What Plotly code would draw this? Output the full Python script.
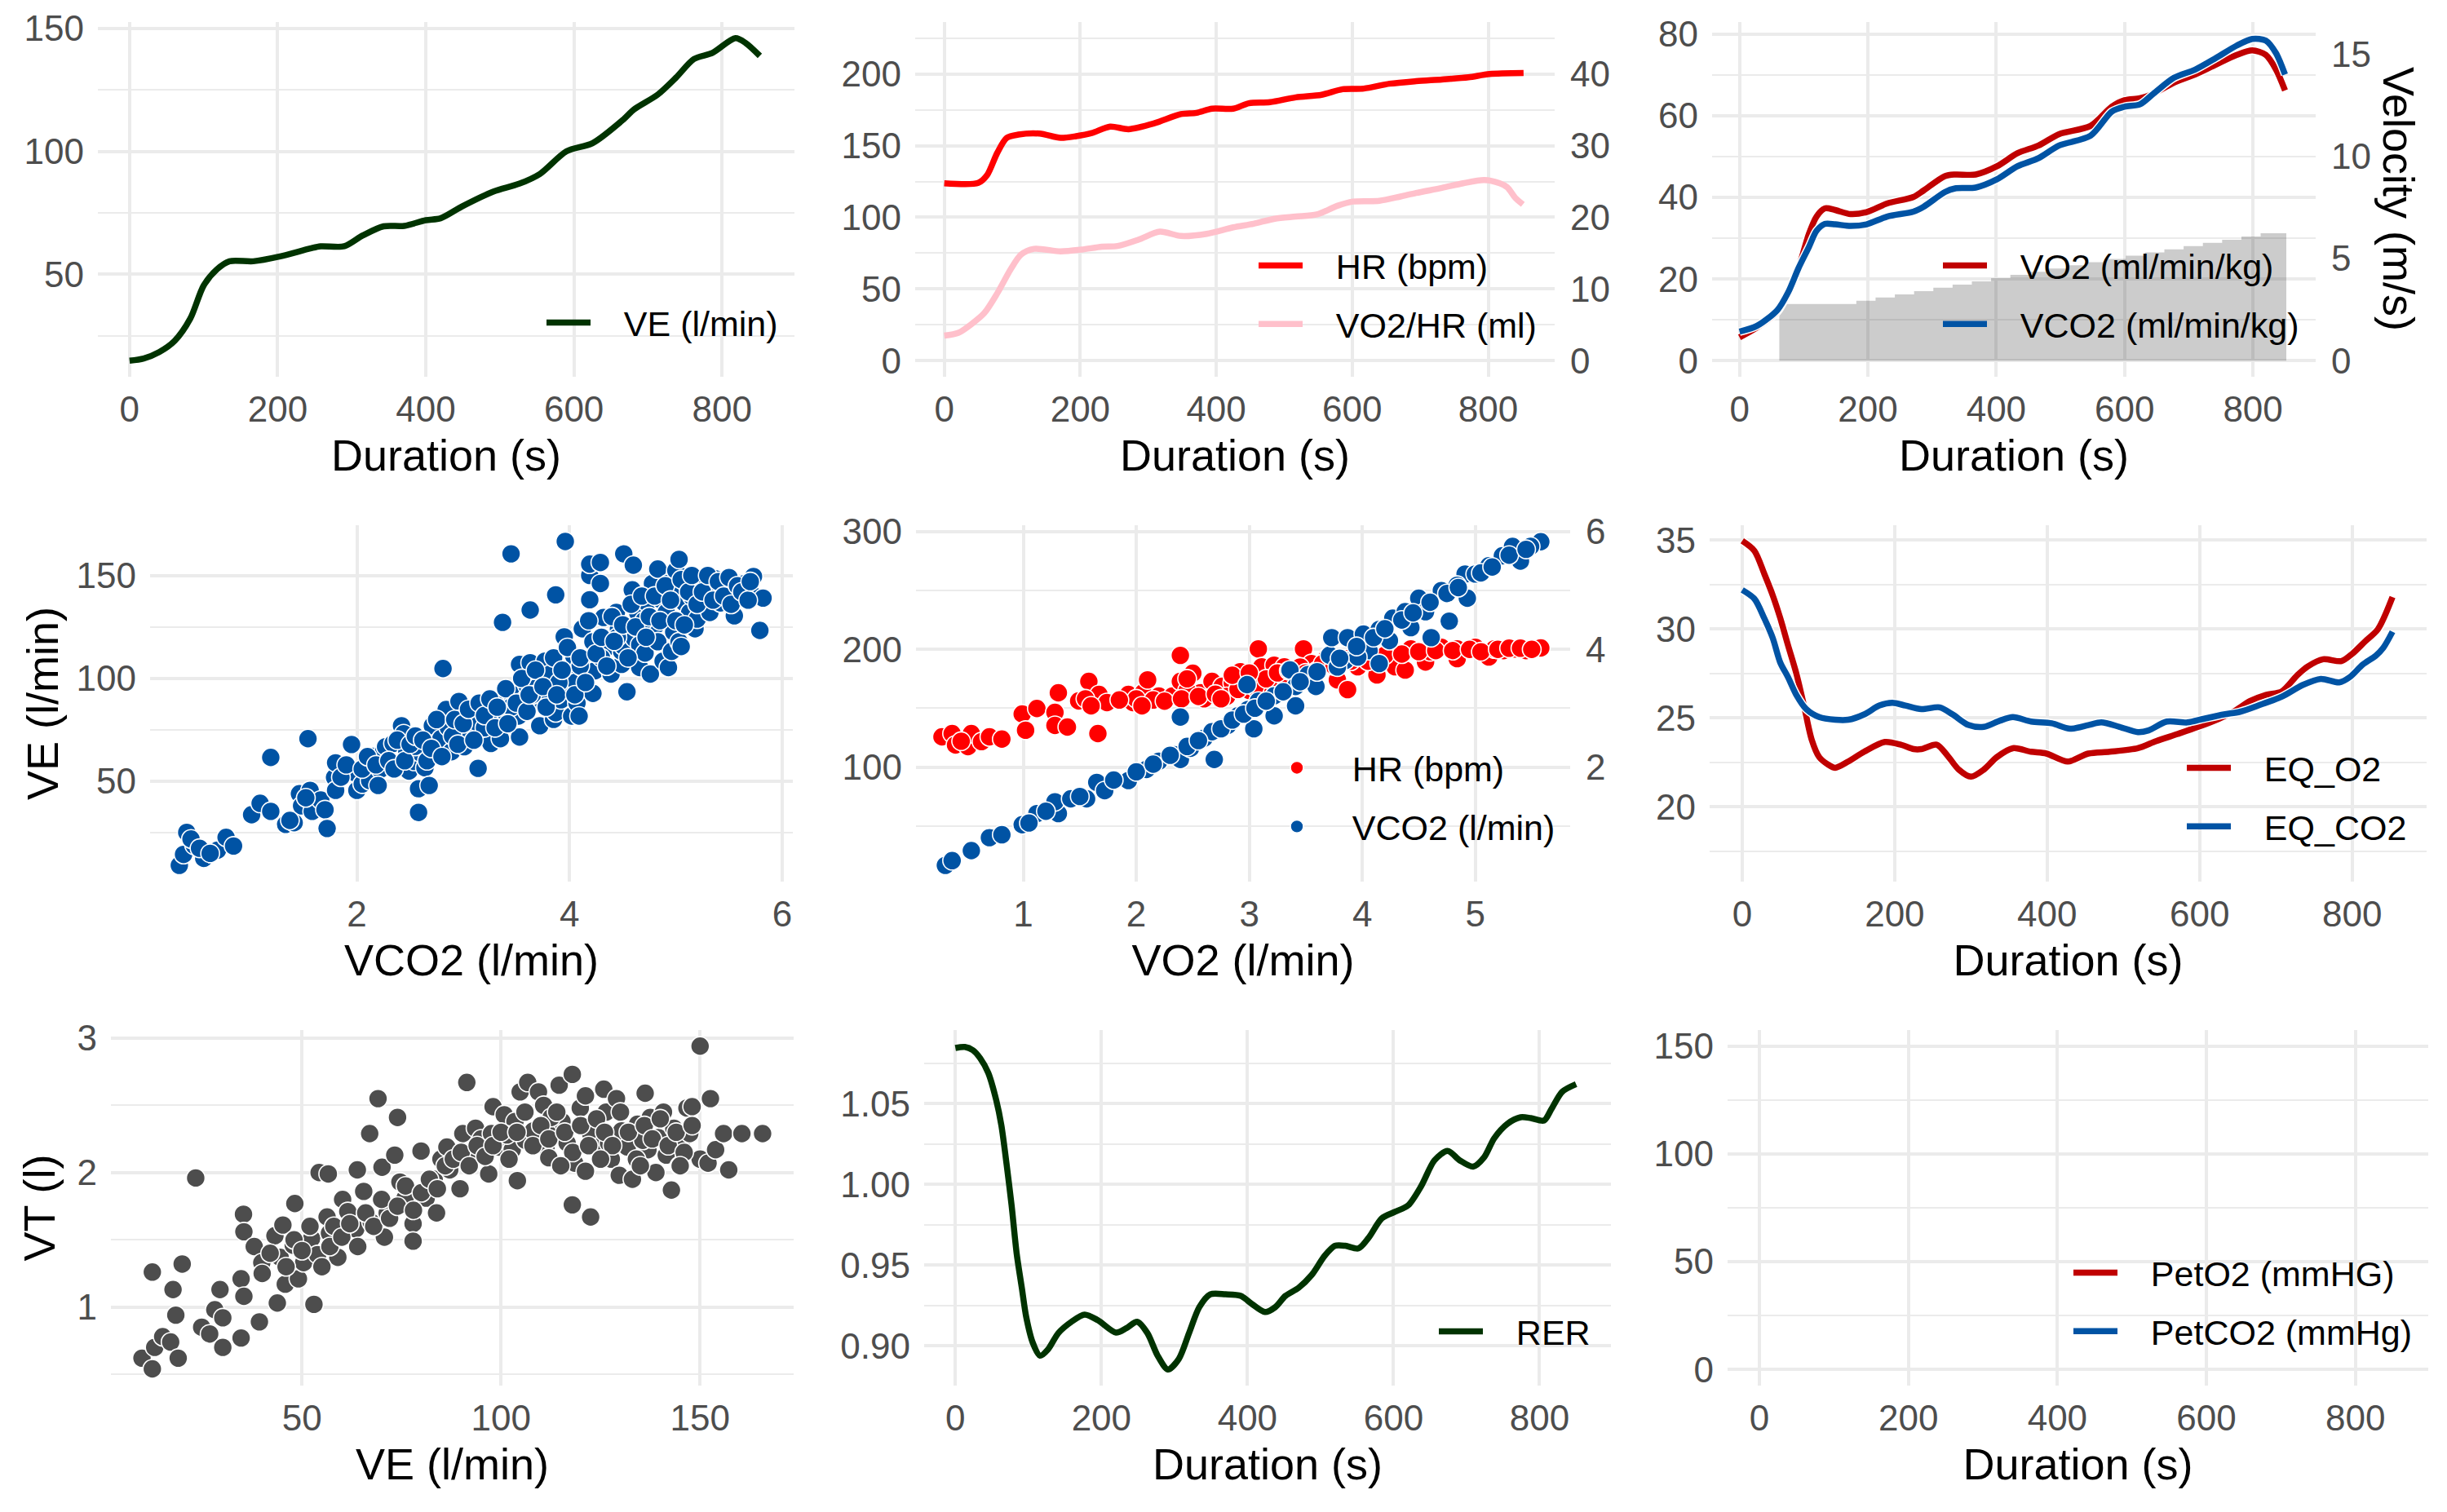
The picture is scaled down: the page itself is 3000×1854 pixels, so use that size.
import plotly.graph_objects as go

W, H = 3000, 1854
FONT = "Liberation Sans, Arial, sans-serif"
TICK_COLOR = "#4D4D4D"
GRID = "#EBEBEB"
GREEN = "#003300"
RED = "#C00000"
BLUE = "#0053A4"
HR_RED = "#FF0000"
PINK = "#FFC0CB"
GREY_PT = "#4D4D4D"
TICK_SIZE = 44
TITLE_SIZE = 54
LEGEND_SIZE = 43
KEY_GAP = "\u00a0\u00a0\u00a0"  # spacing between legend key and its label

# ---------------- data ----------------
# Panel 1: VE over time
ve_t = [0, 19, 40, 61, 82, 100, 118, 135, 167, 202, 244, 258, 290, 315, 343, 371, 400, 420, 449, 491,
        526, 554, 590, 625, 667, 681, 713, 738, 762, 787, 818, 832, 851]
ve_v = [14.9, 15.8, 18.4, 23, 32, 45.4, 52, 55.3, 55.3, 57.2, 60.5, 61.4, 61.4, 65.8, 69.5, 69.7, 72, 72.8,
        77.6, 83.6, 86.8, 90.8, 100, 103.3, 113, 117, 123, 130, 137.5, 140, 146, 144, 138.8]

# Panel 2: HR and VO2/HR over time
hr_t = [0, 50, 63, 78, 92, 109, 140, 171, 194, 217, 244, 271, 309, 348, 371, 394, 425, 448, 479, 517,
        555, 586, 617, 655, 694, 732, 771, 802, 852]
hr_v = [123.8, 124, 129.4, 145, 155.4, 157.7, 158.4, 155.4, 156.6, 158.8, 163.3, 161.5, 165.6, 172, 172.9,
        175.8, 175.8, 179.6, 180.3, 183.7, 185.5, 189.4, 189.8, 193.2, 195, 196.2, 197.7, 200, 200.7]
pulse_t = [0, 21, 40, 59, 78, 98, 113, 132, 171, 202, 232, 255, 286, 317, 348, 386, 425, 455, 486, 517,
           548, 578, 601, 640, 671, 694, 732, 763, 794, 817, 828, 840, 851]
pulse_v = [3.5, 3.9, 5.1, 6.65, 9.4, 12.8, 14.8, 15.6, 15.25, 15.5, 15.9, 16, 16.9, 18, 17.4, 17.7, 18.6,
           19.1, 19.8, 20.1, 20.4, 21.6, 22.2, 22.3, 22.9, 23.4, 24.1, 24.75, 25.2, 24.75, 24.2, 22.7, 21.8]

# Panel 3: VO2 / VCO2 (ml/min/kg) and velocity steps
gas_t = [0, 27, 59, 76, 92, 108, 120, 133, 149, 173, 198, 230, 271, 287, 320, 336, 368, 401, 433, 466,
         498, 547, 580, 600, 624, 645, 677, 710, 742, 775, 799, 820, 836, 850]
vo2kg_v = [5.7, 8.1, 12, 16.8, 22.7, 31, 35.3, 37.3, 36.9, 35.9, 36.4, 38.5, 40.1, 41.7, 45.2, 45.6, 45.6,
           47.6, 50.8, 52.7, 55.5, 57.5, 62.2, 63.8, 64.3, 65.4, 68.1, 70.1, 72.5, 74.9, 76, 74.9, 71.3, 66.2]
vco2kg_v = [7.1, 8.5, 12.4, 16.8, 22.7, 27.8, 31.8, 33.5, 33.4, 33, 33.4, 35.3, 36.5, 37.7, 41.3, 42.2,
            42.4, 44.4, 47.6, 49.6, 52.7, 55.1, 61, 62.2, 62.8, 65.4, 69.3, 71.3, 74.1, 77.2, 78.8, 78.4,
            75.3, 70.1]
vel_t = [62, 182, 212, 242, 272, 302, 332, 362, 392, 422, 452, 482, 512, 542, 572, 602, 632, 662, 692,
         722, 752, 782, 812, 852]
vel_v = [2.78, 2.94, 3.10, 3.25, 3.41, 3.57, 3.72, 3.88, 4.04, 4.20, 4.35, 4.51, 4.67, 4.82, 4.98, 5.14,
         5.30, 5.45, 5.61, 5.77, 5.92, 6.08, 6.24, 6.24]

# Panel 4: VE vs VCO2
p4_vco2 = [0.33, 0.37, 0.40, 0.47, 0.56, 0.69, 0.77, 0.84, 0.44, 0.52, 0.62,
           1.01, 1.09, 1.19, 1.19, 1.33, 1.41, 1.46, 1.48, 1.54, 1.56, 1.58, 1.66, 1.70, 1.72, 1.37, 1.52,
           1.79, 1.80, 1.80, 1.95, 1.98, 2.00, 2.05, 2.12, 2.15, 2.22, 2.25, 2.27, 2.34, 2.42, 2.44, 2.47,
           2.49, 2.54, 2.58, 2.58, 2.60, 2.64, 2.68, 2.71, 2.74, 2.79, 2.81, 2.84, 2.86, 2.89, 2.96, 2.99,
           3.01, 3.03, 3.08, 3.13, 3.14, 3.18, 3.26, 3.28, 3.35, 3.37, 3.37, 3.40, 3.45, 3.45, 3.52, 3.53,
           3.53, 3.58, 3.60, 3.63, 3.63, 3.67, 3.70, 3.72, 3.77, 3.80, 3.82, 3.85, 3.87, 3.87, 3.92, 3.95,
           3.96, 3.97, 3.99, 4.02, 4.04, 4.06, 4.07, 4.09, 4.12, 4.14, 4.19, 4.19, 4.19, 4.22, 4.22, 4.24,
           4.29, 4.29, 4.32, 4.34, 4.39, 4.44, 4.46, 4.49, 4.49, 4.51, 4.51, 4.54, 4.59, 4.60, 4.61, 4.64,
           4.66, 4.66, 4.71, 4.73, 4.76, 4.78, 4.81, 4.83, 4.83, 4.86, 4.88, 4.91, 4.93, 4.93, 4.96, 4.98,
           5.00, 5.03, 5.03, 5.05, 5.05, 5.08, 5.10, 5.13, 5.15, 5.18, 5.20, 5.23, 5.25, 5.28, 5.30, 5.32,
           5.35, 5.37, 5.40, 5.42, 5.47, 5.50, 5.55, 5.55, 5.60, 5.65, 5.72, 5.73, 5.79, 5.82,
           2.30, 2.55, 2.95, 3.20, 3.45, 3.65, 3.90, 4.10, 4.30, 4.45, 4.70,
           1.85, 1.90, 2.05, 2.10, 2.18, 2.20, 2.30, 2.35, 2.38, 2.45, 2.50, 2.55, 2.62, 2.66, 2.70, 2.75,
           2.80, 2.90, 2.92, 2.95, 3.00, 3.05, 3.10, 3.15, 3.20, 3.25, 3.30, 3.32, 3.40, 3.42, 3.50, 3.55,
           3.60, 3.62, 3.68, 3.75, 3.78, 3.85, 3.88, 3.93, 3.98, 4.05, 4.10, 4.15, 4.18, 4.25, 4.30, 4.35,
           4.40, 4.42, 4.50, 4.55, 4.58, 4.62, 4.68, 4.72, 4.75, 4.80, 4.85, 4.90, 4.95, 5.00, 5.05, 5.08,
           5.12, 5.15, 5.20, 5.25, 5.30, 5.35, 5.40, 5.45, 5.50, 5.52, 5.58, 5.62, 5.68, 5.70]
p4_ve = [9.2, 14.5, 25.2, 18.9, 12.6, 16.6, 22.8, 18.6, 22.0, 17.5, 15.0,
         33.8, 39.3, 35.4, 61.6, 29.1, 29.9, 44.0, 38.1, 70.7, 45.6, 35.4, 40.9, 36.2, 27.1, 31.0, 42.0,
         51.9, 59.0, 45.6, 67.9, 54.2, 45.6, 48.7, 50.3, 62.1, 55.8, 64.4, 66.8, 68.4, 77.0, 73.1, 64.4,
         55.0, 59.7, 46.4, 34.9, 63.7, 56.6, 48.0, 77.0, 64.4, 70.7, 104.8, 84.9, 76.2, 64.4, 88.8, 75.4,
         66.8, 73.9, 83.3, 78.6, 56.3, 84.9, 68.4, 80.1, 70.7, 88.8, 127.2, 83.3, 92.7, 160.5, 81.7, 71.5,
         106.8, 89.6, 96.6, 107.6, 133.2, 88.0, 95.8, 77.0, 108.4, 91.1, 102.1, 80.1, 83.3, 140.6, 89.6, 120.2,
         166.5, 95.8, 102.1, 81.7, 110.8, 98.2, 88.0, 81.7, 124.1, 104.5, 138.2, 150.0, 155.5, 117.8, 92.7, 103.7,
         156.3, 146.1, 129.6, 114.7, 102.1, 132.0, 124.1, 106.8, 113.1, 115.5, 160.5, 93.5, 143.0, 155.0, 119.4, 132.0,
         105.3, 116.3, 112.3, 136.7, 102.1, 146.1, 125.7, 117.8, 153.1, 138.2, 108.4, 132.0, 146.1, 105.3, 113.1, 122.5,
         152.4, 157.8, 117.8, 141.4, 115.5, 136.7, 146.1, 132.0, 139.8, 124.1, 128.8, 144.5, 136.7, 149.2, 141.4, 132.0,
         144.5, 148.4, 143.0, 136.7, 146.1, 141.4, 144.5, 130.4, 139.8, 146.1, 140.6, 149.5, 123.3, 139.0,
         60.0, 67.0, 80.0, 76.0, 86.0, 92.0, 98.0, 106.0, 110.0, 120.0, 128.0,
         52, 58, 56, 62, 58, 48, 60, 56, 70, 60, 68, 72, 70, 60, 66, 80,
         62, 72, 80, 68, 78, 85, 70, 88, 82, 90, 76, 86, 95, 78, 88, 100,
         84, 92, 104, 96, 86, 110, 92, 104, 115, 92, 110, 98, 128, 112, 120, 106,
         130, 118, 126, 110, 136, 125, 140, 120, 130, 140, 128, 145, 138, 128, 148, 126,
         142, 150, 136, 142, 150, 138, 147, 140, 149, 136, 145, 142, 138, 147]

# Panel 5: HR and VCO2 vs VO2
p5_hr_vo2 = [0.28, 0.37, 0.40, 0.51, 0.54, 0.63, 0.70, 0.81, 0.45,
             0.99, 1.02, 1.12, 1.28, 1.28, 1.31, 1.39, 1.49, 1.58, 1.66, 1.67, 1.74, 1.93, 1.97, 2.06, 2.10,
             2.20, 2.32, 2.39, 2.39, 2.50, 2.57, 2.67, 2.76, 2.85, 2.92, 2.99, 3.08, 3.11, 3.18, 3.22, 3.31,
             3.41, 3.48, 3.55, 3.69, 3.78, 3.87, 3.96, 4.13, 4.15, 4.29, 4.38, 4.43, 4.54, 4.56, 4.70, 4.84,
             4.84, 5.00, 5.12, 5.17, 5.35, 5.58,
             2.00, 2.15, 2.45, 2.60, 2.80, 3.00, 3.30, 3.60, 3.90, 4.00, 4.60, 5.25, 5.45,
             1.85, 2.05, 2.25, 2.40, 2.55, 2.70, 2.75, 2.90, 3.05, 3.15, 3.25, 3.35, 3.45, 3.50, 3.65, 3.75,
             3.85, 4.05, 4.20, 4.35, 4.50, 4.65, 4.80, 4.95, 5.05, 5.20, 5.30, 5.40, 5.50, 2.45, 2.85, 3.00,
             1.55, 1.60]
p5_hr = [125.7, 128.5, 118.8, 117.4, 128.5, 121.6, 125.7, 123.8, 122.0,
         145.1, 131.3, 149.8, 146.5, 135.4, 163.1, 134.0, 156.2, 172.8, 128.5, 161.7, 154.8, 161.7, 154.8, 163.1, 174.1,
         160.3, 160.3, 194.9, 172.8, 179.7, 163.1, 172.8, 168.6, 171.4, 181.0, 172.8, 200.4, 185.2, 170.0, 186.6, 185.2,
         174.1, 200.4, 188.0, 193.5, 174.1, 165.8, 185.2, 178.3, 193.5, 185.2, 182.4, 200.4, 196.3, 189.3, 201.8, 200.4,
         192.1, 201.8, 193.5, 200.4, 200.4, 201.2,
         158.0, 157.0, 165.0, 158.0, 160.0, 165.0, 178.0, 182.0, 190.0, 194.0, 198.0, 199.0, 199.0,
         157, 152, 156, 158, 160, 162, 158, 166, 168, 175, 180, 182, 185, 180, 188, 186,
         192, 190, 195, 196, 198, 199, 199, 200, 198, 200, 201, 201, 200, 175, 178, 180,
         158, 152]
p5_vco2_vo2 = [0.31, 0.37, 0.54, 0.70, 0.81, 0.99, 1.12, 1.31, 1.28, 1.42, 1.56, 1.65, 1.72, 1.93, 2.09,
               2.20, 2.34, 2.39, 2.48, 2.60, 2.69, 2.39, 2.67, 2.81, 2.90, 2.99, 2.98, 3.08, 3.22, 3.36, 3.41,
               3.52, 3.71, 3.73, 3.87, 3.85, 4.01, 4.06, 4.15, 4.15, 4.27, 4.38, 4.50, 4.61, 4.70, 4.77, 4.91,
               5.00, 4.93, 5.12, 5.24, 5.33, 5.40, 5.58, 5.49, 4.84, 4.56, 4.43, 4.24, 3.96, 3.78, 3.59, 3.41,
               3.22, 3.04,
               1.05, 1.20, 1.50, 1.80, 2.00, 2.15, 2.30, 2.45, 2.55, 2.75, 2.85, 2.95, 3.05, 3.15, 3.30, 3.45,
               3.60, 3.80, 3.95, 4.10, 4.20, 4.35, 4.45, 4.60, 4.75, 4.85, 5.05, 5.15, 5.30, 5.45]
p5_vco2 = [0.33, 0.41, 0.58, 0.80, 0.85, 1.02, 1.21, 1.21, 1.41, 1.46, 1.46, 1.74, 1.60, 1.77, 1.96,
           2.10, 2.21, 2.13, 2.32, 2.49, 2.13, 2.85, 2.60, 2.71, 2.87, 2.98, 3.40, 3.12, 3.21, 3.65, 3.37,
           3.57, 3.90, 4.20, 4.20, 3.81, 4.26, 3.98, 4.34, 3.76, 4.53, 4.64, 4.87, 4.20, 5.00, 4.48, 5.28,
           5.28, 4.87, 5.42, 5.59, 5.75, 5.50, 5.83, 5.75, 5.09, 4.64, 4.37, 4.15, 3.87, 3.70, 3.37, 3.04,
           2.87, 2.65,
           1.05, 1.25, 1.50, 1.78, 1.92, 2.05, 2.20, 2.35, 2.45, 2.65, 2.80, 2.90, 3.00, 3.12, 3.28, 3.45,
           3.62, 3.85, 4.05, 4.20, 4.35, 4.50, 4.62, 4.80, 4.95, 5.05, 5.30, 5.40, 5.60, 5.70]

# Panel 6: ventilatory equivalents
eqo2_t = [0, 16, 29, 40, 50, 60, 71, 81, 91, 101, 112, 122, 139, 160, 187, 208, 225, 235, 255, 269,
          284, 300, 317, 334, 355, 379, 399, 427, 454, 482, 519, 543, 571, 598, 625, 646, 666, 687, 708, 728,
          742, 762, 786, 800, 817, 834, 853]
eqo2_v = [34.96, 34.4, 33.1, 31.9, 30.6, 29.1, 27.5, 25.7, 23.8, 22.8, 22.4, 22.2, 22.55, 23.1, 23.65, 23.5,
          23.25, 23.25, 23.5, 22.9, 22.1, 21.7, 22.1, 22.8, 23.3, 23.1, 23.0, 22.55, 23.0, 23.1, 23.3, 23.7,
          24.1, 24.5, 24.95, 25.4, 25.95, 26.3, 26.5, 27.4, 27.9, 28.3, 28.2, 28.6, 29.3, 30.0, 31.8]
eqco2_t = [0, 16, 29, 40, 50, 60, 71, 84, 101, 122, 139, 160, 180, 197, 214, 235, 259, 276, 297, 317,
           338, 355, 379, 406, 430, 454, 471, 495, 519, 533, 557, 584, 605, 632, 653, 680, 708, 735, 759, 783,
           797, 814, 831, 841, 853]
eqco2_v = [32.2, 31.7, 30.6, 29.5, 28.1, 27.3, 26.3, 25.5, 25.05, 24.9, 24.9, 25.2, 25.7, 25.85, 25.7, 25.5,
           25.6, 25.2, 24.6, 24.5, 24.85, 25.05, 24.8, 24.7, 24.4, 24.6, 24.75, 24.5, 24.2, 24.3, 24.8, 24.75,
           24.95, 25.2, 25.35, 25.75, 26.2, 26.85, 27.2, 27.0, 27.3, 28.0, 28.5, 28.95, 29.85]

# Panel 7: VT vs VE
p7_ve = [9.8, 12.4, 12.4, 13.0, 15.0, 17.0, 17.6, 18.3, 18.9, 19.9, 23.3, 24.8, 26.8, 28.1, 29.4, 30.1,
         30.1, 34.7, 35.4, 34.7, 35.3, 35.4, 38.0, 39.3, 39.9, 43.2, 43.8, 44.5, 45.2, 45.8, 47.8, 48.2,
         49.1, 50.4, 52.4, 53.0, 53.9, 54.3, 56.3, 56.6, 56.9, 59.0, 60.2, 61.5, 63.5, 63.9, 65.5, 67.0,
         67.4, 69.1, 70.1, 70.7, 71.4, 73.3, 74.0, 74.6, 75.9, 77.9, 77.9, 79.9, 81.2, 83.2, 83.8, 84.9,
         86.4, 87.1, 89.7, 90.4, 91.4, 93.0, 93.6, 95.0, 96.9, 97.6, 98.0, 99.5, 100.8, 102.8, 104.1, 103.5,
         104.8, 106.1, 106.7, 108.1, 109.4, 110.7, 111.3, 112.0, 113.3, 114.6, 115.3, 116.6, 117.9, 117.9,
         118.5, 119.9, 121.2, 121.2, 122.5, 122.5, 124.4, 125.8, 126.4, 127.7, 129.0, 129.7, 130.3, 131.7,
         133.0, 134.3, 136.2, 136.9, 137.5, 138.9, 139.5, 140.8, 141.5, 142.8, 143.4, 144.8, 145.4, 146.7,
         147.4, 148.0, 150.0, 150.0, 152.0, 152.6, 153.9, 155.9, 157.2, 160.5, 165.7, 135.6, 127.0, 112.6,
         101.5, 91.7,
         40, 42, 46, 48, 50, 52, 55, 57, 58, 60, 62, 64, 66, 68, 70, 72, 74, 76, 78, 80, 82, 84, 86, 88,
         90, 92, 94, 96, 98, 100, 102, 104, 106, 108, 110, 112, 114, 116, 118, 120, 122, 124, 126, 128,
         130, 132, 134, 136, 138, 140, 142, 144, 146, 148, 145, 135, 125, 115]
p7_vt = [0.62, 0.54, 1.26, 0.70, 0.78, 0.74, 1.13, 0.94, 0.62, 1.32, 1.96, 0.85, 0.80, 0.98, 1.13, 0.70,
         0.92, 1.21, 1.08, 0.77, 1.69, 1.56, 1.45, 0.89, 1.33, 1.53, 1.03, 1.37, 1.61, 1.17, 1.46, 1.77,
         1.21, 1.33, 1.51, 1.02, 1.39, 2.00, 1.67, 1.99, 1.55, 1.37, 1.80, 1.71, 1.58, 2.02, 1.86, 2.29,
         1.63, 2.55, 2.04, 1.52, 1.70, 2.13, 2.41, 1.93, 1.81, 1.62, 1.49, 2.16, 1.81, 1.95, 1.70, 2.10,
         2.19, 2.02, 1.88, 2.29, 2.67, 2.14, 2.33, 2.25, 1.99, 2.29, 2.49, 2.19, 2.43, 2.17, 1.94, 2.38,
         2.60, 2.24, 2.67, 2.31, 2.60, 2.50, 2.19, 2.11, 2.29, 2.65, 2.38, 2.22, 2.73, 1.76,
         2.07, 2.48, 2.57, 2.01, 1.67, 2.29, 2.19, 2.62, 2.45, 2.10, 2.55, 1.98, 2.31, 2.19,
         1.95, 2.36, 2.59, 2.17, 2.41, 2.00, 2.26, 2.45, 2.13, 1.87, 2.33, 2.05, 2.19, 2.48,
         2.29, 2.49, 2.94, 2.10, 2.07, 2.55, 2.17, 2.29, 2.02, 2.29, 2.29, 2.24, 2.22, 2.41,
         2.28, 2.11,
         1.25, 1.40, 1.30, 1.50, 1.42, 1.60, 1.30, 1.45, 1.60, 1.52, 1.62, 1.45, 1.70, 1.60, 1.80, 1.66,
         1.75, 1.90, 1.72, 1.85, 1.95, 1.88, 2.05, 2.10, 2.15, 2.05, 2.20, 2.12, 2.20, 2.30, 2.10, 2.30,
         2.45, 2.20, 2.35, 2.25, 2.45, 2.30, 2.15, 2.35, 2.20, 2.40, 2.30, 2.20, 2.45, 2.30, 2.10, 2.35,
         2.25, 2.40, 2.20, 2.30, 2.15, 2.35, 2.05, 2.05, 2.10, 2.05]

# Panel 8: RER over time
rer_t = [0, 13, 24, 34, 45, 56, 63, 70, 77, 84, 91, 97, 106, 116, 127, 141, 159, 177, 195, 220,
         234, 249, 263, 277, 291, 306, 320, 334, 349, 370, 391, 406, 424, 438, 452, 470, 488, 506, 520, 534,
         552, 566, 584, 602, 620, 638, 656, 674, 691, 709, 724, 738, 756, 774, 788, 806, 816, 831, 850]
rer_v = [1.0844, 1.085, 1.083, 1.078, 1.069, 1.052, 1.0365, 1.013, 0.987, 0.957, 0.936, 0.918, 0.902, 0.894,
         0.898, 0.908, 0.915, 0.9194, 0.916, 0.9083, 0.911, 0.915, 0.908, 0.894, 0.8855, 0.892, 0.908, 0.924,
         0.932, 0.932, 0.931, 0.926, 0.921, 0.924, 0.931, 0.936, 0.944, 0.956, 0.962, 0.962, 0.9604, 0.967,
         0.979, 0.983, 0.987, 0.999, 1.0148, 1.0207, 1.0148, 1.011, 1.0167, 1.0286, 1.0375, 1.0415, 1.041,
         1.0395, 1.0464, 1.0573, 1.062]

# Panel 9: end-tidal pressures (no values recorded)
peto2_t, peto2_v = [None], [None]
petco2_t, petco2_v = [None], [None]

# ---------------- layout helpers ----------------
def dom_x(a, b):
    return [a / W, b / W]


def dom_y(top, bot):
    return [1 - bot / H, 1 - top / H]


ROW = [(19, 454), (636, 1073), (1255, 1691)]
TIME_RANGE = [-42.75, 897.75]


def grid_minor(dtick, tick0=0):
    return dict(dtick=dtick, tick0=tick0, showgrid=True, gridcolor=GRID, gridwidth=2.2, ticks="")


def make_x(domain, rng, dtick, anchor, title, tick0=0):
    return dict(domain=domain, range=rng, dtick=dtick, tick0=tick0, anchor=anchor,
                showgrid=True, gridcolor=GRID, gridwidth=4.4, zeroline=False, showline=False,
                ticks="", ticklabelstandoff=10, tickfont=dict(size=TICK_SIZE, color=TICK_COLOR),
                automargin=False, fixedrange=True,
                title=dict(text=title, font=dict(size=TITLE_SIZE, color="black"), standoff=14))


def make_y(domain, rng, dtick, anchor, minor=None, tick0=0, title=None, fmt=None, side="left",
           showgrid=True, overlaying=None, title_standoff=6):
    d = dict(range=rng, dtick=dtick, tick0=tick0, anchor=anchor, side=side,
             showgrid=showgrid, gridcolor=GRID, gridwidth=4.4, zeroline=False, showline=False,
             ticks="", ticklabelstandoff=16 if side == "left" else 18,
             tickfont=dict(size=TICK_SIZE, color=TICK_COLOR),
             automargin=False, fixedrange=True)
    if overlaying:
        d["overlaying"] = overlaying
    else:
        d["domain"] = domain
    if minor is not None:
        d["minor"] = minor
    if fmt:
        d["tickformat"] = fmt
    if title:
        d["title"] = dict(text=title, font=dict(size=TITLE_SIZE, color="black"), standoff=title_standoff)
    return d


def make_legend(right_px, bottom_item_px):
    return dict(x=right_px / W, y=1 - (bottom_item_px + 34) / H, xanchor="right", yanchor="bottom",
                bgcolor="rgba(0,0,0,0)", font=dict(size=LEGEND_SIZE, color="black", family=FONT),
                itemwidth=54, tracegroupgap=13, traceorder="grouped")


fig = go.Figure()


def line(x, y, color, xa, ya, name=None, legend=None, width=7.5, outline=False):
    if outline:
        fig.add_trace(go.Scatter(x=x, y=y, mode="lines", xaxis=xa, yaxis=ya, showlegend=False,
                                 hoverinfo="skip",
                                 line=dict(color="white", width=width + 3, shape="spline", smoothing=0.8)))
    fig.add_trace(go.Scatter(x=x, y=y, mode="lines", xaxis=xa, yaxis=ya,
                             name=None if name is None else KEY_GAP + name,
                             showlegend=name is not None, legend=legend, legendgroup=name,
                             line=dict(color=color, width=width, shape="spline", smoothing=0.8)))


def points(x, y, color, xa, ya, name=None, legend=None):
    fig.add_trace(go.Scatter(x=x, y=y, mode="markers", xaxis=xa, yaxis=ya,
                             name=None if name is None else KEY_GAP + name,
                             showlegend=name is not None, legend=legend, legendgroup=name,
                             marker=dict(size=23, color=color, line=dict(color="white", width=1.6))))


# Panel 1
line(ve_t, ve_v, GREEN, "x", "y", "VE (l/min)", "legend")
# Panel 2
line(hr_t, hr_v, HR_RED, "x2", "y2", "HR (bpm)", "legend2")
line(pulse_t, pulse_v, PINK, "x2", "y10", "VO2/HR (ml)", "legend2")
# Panel 3 (velocity on the base axis so the gas lines are drawn above it)
fig.add_trace(go.Scatter(x=vel_t, y=vel_v, mode="lines", xaxis="x3", yaxis="y3", showlegend=False,
                         line=dict(width=0, shape="hv"), fill="tozeroy",
                         fillcolor="rgba(0,0,0,0.2)", hoverinfo="skip"))
line(gas_t, vo2kg_v, RED, "x3", "y11", "VO2 (ml/min/kg)", "legend3", outline=True)
line(gas_t, vco2kg_v, BLUE, "x3", "y11", "VCO2 (ml/min/kg)", "legend3", outline=True)
# Panel 4
points(p4_vco2, p4_ve, BLUE, "x4", "y4")
# Panel 5
points(p5_hr_vo2, p5_hr, HR_RED, "x5", "y5", "HR (bpm)", "legend4")
points(p5_vco2_vo2, p5_vco2, BLUE, "x5", "y12", "VCO2 (l/min)", "legend4")
# Panel 6
line(eqo2_t, eqo2_v, RED, "x6", "y6", "EQ_O2", "legend5", outline=True)
line(eqco2_t, eqco2_v, BLUE, "x6", "y6", "EQ_CO2", "legend5", outline=True)
# Panel 7
points(p7_ve, p7_vt, GREY_PT, "x7", "y7")
# Panel 8
line(rer_t, rer_v, GREEN, "x8", "y8", "RER", "legend6")
# Panel 9
line(peto2_t, peto2_v, RED, "x9", "y9", "PetO2 (mmHG)", "legend7")
line(petco2_t, petco2_v, BLUE, "x9", "y9", "PetCO2 (mmHg)", "legend7")

r1, r2, r3 = ROW
layout = dict(
    width=W, height=H, margin=dict(l=0, r=0, t=0, b=0),
    paper_bgcolor="white", plot_bgcolor="white",
    font=dict(family=FONT, color="black"),
    showlegend=True,
    # Row 1
    xaxis=make_x(dom_x(112, 966), TIME_RANGE, 200, "y", "Duration (s)"),
    yaxis=make_y(dom_y(*r1), [8.35, 152.55], 50, "x", grid_minor(25)),
    xaxis2=make_x(dom_x(1114, 1898), TIME_RANGE, 200, "y2", "Duration (s)"),
    yaxis2=make_y(dom_y(*r1), [-11.25, 236.25], 50, "x2", grid_minor(25)),
    yaxis10=make_y(None, [-2.25, 47.25], 10, "x2", side="right", showgrid=False, overlaying="y2"),
    xaxis3=make_x(dom_x(2091, 2831), TIME_RANGE, 200, "y3", "Duration (s)"),
    yaxis3=make_y(dom_y(*r1), [-0.79, 16.59], 5, "x3", side="right", showgrid=False),
    yaxis11=make_y(None, [-3.95, 82.95], 20, "x3", grid_minor(10), side="left", overlaying="y3"),
    # Row 2
    xaxis4=make_x(dom_x(176, 964), [0.055, 6.1], 2, "y4", "VCO2 (l/min)"),
    yaxis4=make_y(dom_y(*r2), [1.3, 174.4], 50, "x4", grid_minor(25), title="VE (l/min)", title_standoff=4),
    xaxis5=make_x(dom_x(1115, 1917), [0.05, 5.84], 1, "y5", "VO2 (l/min)"),
    yaxis5=make_y(dom_y(*r2), [2.7, 305.5], 100, "x5", grid_minor(50)),
    yaxis12=make_y(None, [0.054, 6.11], 2, "x5", side="right", showgrid=False, overlaying="y5"),
    xaxis6=make_x(dom_x(2088, 2967), TIME_RANGE, 200, "y6", "Duration (s)"),
    yaxis6=make_y(dom_y(*r2), [15.8, 35.84], 5, "x6", grid_minor(2.5)),
    # Row 3
    xaxis7=make_x(dom_x(128, 965), [2.0, 173.5], 50, "y7", "VE (l/min)"),
    yaxis7=make_y(dom_y(*r3), [0.416, 3.06], 1, "x7", grid_minor(0.5), title="VT (l)", title_standoff=9),
    xaxis8=make_x(dom_x(1125, 1967), TIME_RANGE, 200, "y8", "Duration (s)"),
    yaxis8=make_y(dom_y(*r3), [0.8755, 1.0955], 0.05, "x8", grid_minor(0.025), fmt=".2f"),
    xaxis9=make_x(dom_x(2110, 2969), TIME_RANGE, 200, "y9", "Duration (s)"),
    yaxis9=make_y(dom_y(*r3), [-7.5, 157.5], 50, "x9", grid_minor(25)),
    # legends inside panels
    legend=make_legend(951, 388),
    legend2=make_legend(1881, 390),
    legend3=make_legend(2816, 390),
    legend4=make_legend(1904, 1006),
    legend5=make_legend(2948, 1006),
    legend6=make_legend(1947, 1625),
    legend7=make_legend(2954, 1625),
    annotations=[dict(text="Velocity (m/s)", x=2933 / W, y=1 - 236 / H, xref="paper", yref="paper",
                      showarrow=False, textangle=90, font=dict(size=TITLE_SIZE, color="black"),
                      xanchor="center", yanchor="middle")],
)
fig.update_layout(**layout)

fig.write_html("out.html")
